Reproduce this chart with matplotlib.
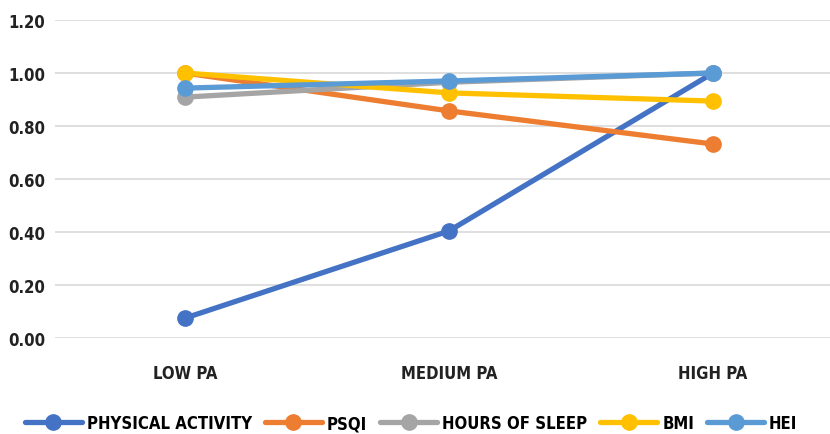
import matplotlib
matplotlib.use("Agg")
import matplotlib.pyplot as plt

categories = ["LOW PA", "MEDIUM PA", "HIGH PA"]
series_names = ["PHYSICAL ACTIVITY", "PSQI", "HOURS OF SLEEP", "BMI", "HEI"]
physical_activity = [0.075, 0.404, 1.00]
psqi = [1.00, 0.857, 0.732]
hours_of_sleep = [0.909, 0.965, 1.00]
bmi = [1.00, 0.925, 0.894]
hei = [0.943, 0.970, 1.00]
colors = ["#4472C4", "#ED7D31", "#A5A5A5", "#FFC000", "#5B9BD5"]
yticks = [0.0, 0.2, 0.4, 0.6, 0.8, 1.0, 1.2]

plt.rcParams["font.family"] = ["DejaVu Sans"]
plt.rcParams["font.stretch"] = "condensed"
plt.rcParams["font.weight"] = "bold"

fig = plt.figure(figsize=(8.3, 4.35), dpi=100)
ax = fig.add_axes([55 / 830, 96 / 435, 775 / 830, 318 / 435])

x = list(range(len(categories)))
for name, vals, c in zip(series_names,
                         [physical_activity, psqi, hours_of_sleep, bmi, hei],
                         colors):
    ax.plot(x, vals, color=c, lw=3.8, marker="o", ms=11, label=name,
            solid_capstyle="round")

ax.set_xlim(-0.492, 2.443)
ax.set_ylim(0, 1.2)
ax.set_yticks(yticks)
ax.set_yticklabels([f"{v:.2f}" for v in yticks])
ax.set_xticks(x)
ax.set_xticklabels(categories)
ax.grid(axis="y", color="#D9D9D9", lw=1.2)
ax.set_axisbelow(True)
for s in ax.spines.values():
    s.set_visible(False)
ax.tick_params(length=0, labelsize=12, colors="#222222")
ax.tick_params(axis="y", pad=7)
ax.tick_params(axis="x", pad=19)

fig.legend(loc="lower left", bbox_to_anchor=(0.012, -0.03), ncol=5,
           frameon=False, fontsize=12, handlelength=3.4,
           columnspacing=0.8, handletextpad=0.3)

fig.savefig("out.png", dpi=100)
